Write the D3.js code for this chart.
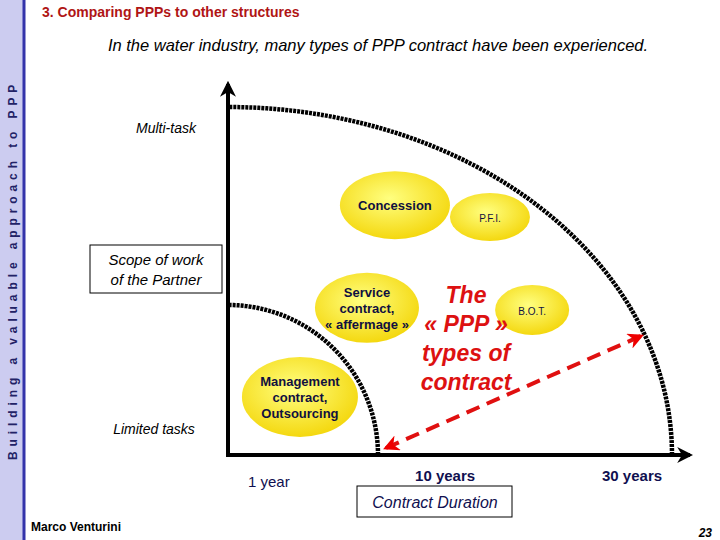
<!DOCTYPE html>
<html><head><meta charset="utf-8">
<script src="https://cdn.jsdelivr.net/npm/d3@7"></script>
<style>body{margin:0;background:#fff}svg{display:block;font-family:Arial,"Liberation Sans",sans-serif}</style>
</head><body>
<script>
// contracts: position in duration / scope units (0-100), bubble size
var contracts = ["Management contract, Outsourcing", "Service contract, « affermage »", "Concession", "P.F.I.", "B.O.T."];
var durationPos = [16.2, 31.3, 37.6, 59.0, 68.5];
var scopePos = [16.7, 42.3, 71.8, 68.4, 41.7];
var bubbleRx = [58, 52, 55, 40, 37];
var bubbleRy = [40, 35, 34, 24, 25];
var bubbleBold = [true, true, true, false, false];
var durationTicks = ["1 year", "10 years", "30 years"];
var durationTickPos = [9.2, 48.9, 91.0];

var W = 720, H = 540;
var x0 = 228, y0 = 455;
var x = d3.scaleLinear().domain([0, 100]).range([x0, x0 + 444]);
var y = d3.scaleLinear().domain([0, 100]).range([y0, y0 - 348]);

var svg = d3.select("body").append("svg").attr("width", W).attr("height", H);
var defs = svg.append("defs");
var g = defs.append("radialGradient").attr("id", "yel").attr("cx", "45%").attr("cy", "40%").attr("r", "60%");
g.append("stop").attr("offset", "0%").attr("stop-color", "#ffff80");
g.append("stop").attr("offset", "100%").attr("stop-color", "#f4d810");
function marker(id, orient) {
  defs.append("marker").attr("id", id).attr("viewBox", "0 0 10 10").attr("refX", 8).attr("refY", 5)
    .attr("markerWidth", 4).attr("markerHeight", 4).attr("orient", orient)
    .append("path").attr("d", "M0,0L10,5L0,10L3,5z").attr("fill", id == "blk" ? "#000" : "#e00");
}
marker("blk", "auto"); marker("red", "auto-start-reverse");

// left strip
svg.append("rect").attr("width", 23).attr("height", H).attr("fill", "#ccccf0");
svg.append("line").attr("x1", 24).attr("x2", 24).attr("y1", 0).attr("y2", H).attr("stroke", "#3333aa").attr("stroke-width", 3);
svg.append("text").attr("transform", "translate(17,460) rotate(-90)").attr("font-size", 12).attr("font-weight", "bold")
  .attr("letter-spacing", "4.9px").attr("fill", "#222266").text("Building a valuable approach to PPP");

svg.append("text").attr("x", 42).attr("y", 17).attr("font-size", 14).attr("font-weight", "bold").attr("fill", "#b01515")
  .text("3.  Comparing PPPs to other structures");
svg.append("text").attr("x", 378).attr("y", 51).attr("text-anchor", "middle").attr("font-size", 16.5).attr("font-style", "italic")
  .text("In the water industry, many types of PPP contract have been experienced.");

// dotted arcs
function arc(rx, ry) {
  return d3.range(0, 91).map(function (a) {
    var t = a * Math.PI / 180;
    return [x0 + rx * Math.cos(t), y0 - ry * Math.sin(t)];
  });
}
svg.append("path").attr("d", d3.line()(arc(444, 348))).attr("fill", "none").attr("stroke", "#000").attr("stroke-width", 4.5).attr("stroke-dasharray", "3,1");
svg.append("path").attr("d", d3.line()(arc(150, 150))).attr("fill", "none").attr("stroke", "#000").attr("stroke-width", 4.5).attr("stroke-dasharray", "3,1");

// axes
svg.append("line").attr("x1", x0).attr("y1", y0).attr("x2", x0).attr("y2", 84).attr("stroke", "#000").attr("stroke-width", 4).attr("marker-end", "url(#blk)");
svg.append("line").attr("x1", x0 - 2).attr("y1", y0).attr("x2", 690).attr("y2", y0).attr("stroke", "#000").attr("stroke-width", 4).attr("marker-end", "url(#blk)");

// bubbles
var b = svg.selectAll("g.b").data(contracts).enter().append("g")
  .attr("transform", function (d, i) { return "translate(" + x(durationPos[i]) + "," + y(scopePos[i]) + ")"; });
b.append("ellipse").attr("rx", function (d, i) { return bubbleRx[i]; }).attr("ry", function (d, i) { return bubbleRy[i]; })
  .attr("fill", "url(#yel)");
b.each(function (d, i) {
  var lines = i == 0 ? ["Management", "contract,", "Outsourcing"] : i == 1 ? ["Service", "contract,", "« affermage »"] : [d];
  var t = d3.select(this).append("text").attr("text-anchor", "middle").attr("fill", "#101040")
    .attr("font-size", bubbleBold[i] ? 13 : 10).attr("font-weight", bubbleBold[i] ? "bold" : "normal");
  lines.forEach(function (l, k) {
    t.append("tspan").attr("x", 0).attr("y", (k - (lines.length - 1) / 2) * 16 + 5).text(l);
  });
});

// red dashed arrow
svg.append("line").attr("x1", 386).attr("y1", 448).attr("x2", 641).attr("y2", 336).attr("stroke", "#e01010").attr("stroke-width", 4)
  .attr("stroke-dasharray", "14,8").attr("marker-start", "url(#red)").attr("marker-end", "url(#red)");

var ppp = svg.append("text").attr("text-anchor", "middle").attr("font-size", 23).attr("font-style", "italic").attr("font-weight", "bold").attr("fill", "#dd1111");
["The", "« PPP »", "types of", "contract"].forEach(function (l, k) {
  ppp.append("tspan").attr("x", 466).attr("y", 303 + k * 29).text(l);
});

// axis labels
svg.append("text").attr("x", 166).attr("y", 133).attr("text-anchor", "middle").attr("font-size", 14).attr("font-style", "italic").text("Multi-task");
svg.append("text").attr("x", 154).attr("y", 434).attr("text-anchor", "middle").attr("font-size", 14).attr("font-style", "italic").text("Limited tasks");
svg.append("rect").attr("x", 90).attr("y", 245).attr("width", 132).attr("height", 48).attr("fill", "#fff").attr("stroke", "#000");
svg.append("text").attr("x", 156).attr("y", 265).attr("text-anchor", "middle").attr("font-size", 15).attr("font-style", "italic").text("Scope of work");
svg.append("text").attr("x", 156).attr("y", 285).attr("text-anchor", "middle").attr("font-size", 15).attr("font-style", "italic").text("of the Partner");

svg.selectAll("text.t").data(durationTicks).enter().append("text").attr("class", "t")
  .attr("x", function (d, i) { return x(durationTickPos[i]); }).attr("y", function (d, i) { return i == 0 ? 487 : 481; })
  .attr("text-anchor", "middle").attr("font-size", 15).attr("fill", "#101050")
  .attr("font-weight", function (d, i) { return i == 0 ? "normal" : "bold"; }).text(function (d) { return d; });

svg.append("rect").attr("x", 357).attr("y", 486).attr("width", 155).attr("height", 31).attr("fill", "#fff").attr("stroke", "#000");
svg.append("text").attr("x", 435).attr("y", 508).attr("text-anchor", "middle").attr("font-size", 16).attr("font-style", "italic").attr("fill", "#101050").text("Contract Duration");

svg.append("text").attr("x", 31).attr("y", 531).attr("font-size", 12).attr("font-weight", "bold").text("Marco Venturini");
svg.append("text").attr("x", 712).attr("y", 537).attr("text-anchor", "end").attr("font-size", 12).attr("font-weight", "bold").attr("font-style", "italic").text("23");
</script>
</body></html>
